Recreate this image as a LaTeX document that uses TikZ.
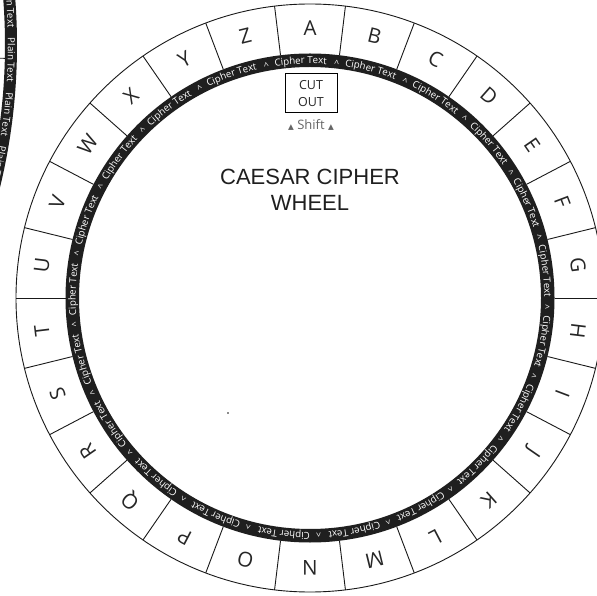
\documentclass[tikz,border=0pt]{standalone}
\usepackage{fontspec}
\setmainfont{Open Sans}
\newfontfamily\titlefont{Liberation Sans}
\newfontfamily\symfont{DejaVu Sans}
\usetikzlibrary{decorations.text,calc}
\newcommand\cipherfmt{\color{white}\fontsize{9.7}{9.7}\selectfont}
\newcommand\tri{{\symfont\fontsize{7.5}{7.5}\selectfont ▲}}
\begin{document}
\begin{tikzpicture}[x=1pt,y=1pt,
  band/.style={fill=black!88,even odd rule},
  cellline/.style={line width=0.9pt,black!90},
  letter/.style={font=\fontsize{20.5}{20.5}\selectfont,inner sep=0pt,text=black!85},
  caret/.style={font=\fontsize{9}{9}\selectfont,inner sep=0pt,text=white,anchor=base},
  cutbox/.style={draw,line width=1pt,minimum width=52pt,minimum height=39pt,align=center,inner sep=0pt,font=\fontsize{12.5}{17}\selectfont,text=black!85},
  shiftlbl/.style={text=black!60,font=\fontsize{13}{13}\selectfont,inner sep=0pt},
  title/.style={align=center,text=black!88,font=\titlefont\fontsize{22}{26}\selectfont,inner sep=0pt}]
\useasboundingbox (0,0) rectangle (597,595);
\clip (0,0) rectangle (597,595);
\fill[white] (0,0) rectangle (597,595);
\coordinate (C) at (310,297);
% ---- partial plain-text wheel (top left) ----
\begin{scope}[shift={(-583,550)}]
  \fill[band] (0,0) circle[radius=600] (0,0) circle[radius=588];
  \coordinate (pl1) at (-1.3:588);
  \coordinate (pl2) at (-1.3:560);
  \draw[cellline] (pl1) -- (pl2);
  \foreach \c in {3.8,-1.45,-6.7,-11.95,-17.2}{
    \pgfmathsetmacro\s{\c+4}
    \pgfmathsetmacro\e{\c-4}
    \path[decorate,decoration={text along path,text={|\cipherfmt|Plain Text},text align=center}]
      (\s:591) arc[start angle=\s,end angle=\e,radius=591];
  }
\end{scope}
% ---- main wheel ----
\begin{scope}[shift={(C)}]
  \fill[band] (0,0) circle[radius=244.5] (0,0) circle[radius=231];
  \draw[line width=0.9pt,black!90] (0,0) circle[radius=294];
  \foreach \k in {0,...,25}{
    \pgfmathsetmacro\a{96.923-\k*13.84615}
    \draw[cellline] (\a:244.5) -- (\a:294);
  }
  \foreach \L [count=\i from 0] in {A,B,C,D,E,F,G,H,I,J,K,L,M,N,O,P,Q,R,S,T,U,V,W,X,Y,Z}{
    \pgfmathsetmacro\a{90-\i*13.84615}
    \node[letter,rotate=\a-90] (L\L) at (\a:270) {\L};
  }
  \foreach \k in {0,...,20}{
    \pgfmathsetmacro\t{83.5-\k*17.142857}
    \pgfmathsetmacro\c{\t-8.4}
    \pgfmathsetmacro\s{\c+10}
    \pgfmathsetmacro\e{\c-10}
    \node[caret,rotate=\t-90] (car\k) at (\t:233.2) {\^{}};
    \path[decorate,decoration={text along path,text={|\cipherfmt|Cipher Text},text align=center}]
      (\s:234.3) arc[start angle=\s,end angle=\e,radius=234.3];
  }
\end{scope}
% ---- centre labels ----
\node[cutbox] (cut) at (311,501.5) {CUT\\OUT};
\node[shiftlbl] (shift) at (311,470) {\tri\ Shift\ \tri};
\node[title] (ttl) at (310,405) {CAESAR CIPHER\\WHEEL};
\fill[black!45] (227,181) rectangle (229,183);
\end{tikzpicture}
\end{document}
